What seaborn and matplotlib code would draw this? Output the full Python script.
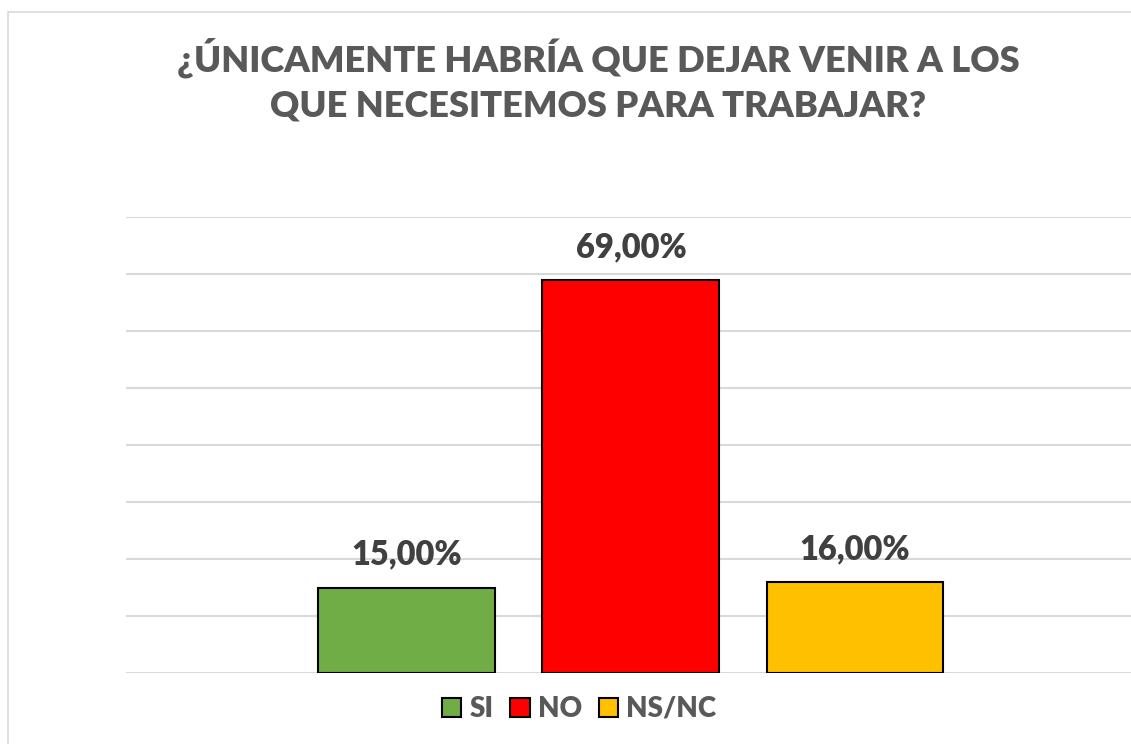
import numpy as np
import pandas as pd
import matplotlib
matplotlib.use("Agg")
import matplotlib.pyplot as plt
from matplotlib.patches import Rectangle
import seaborn as sns

# data
categories = ["SI", "NO", "NS/NC"]
values = [15.0, 69.0, 16.0]
bar_colors = ["#70AD47", "#FF0000", "#FFC000"]
title = "¿ÚNICAMENTE HABRÍA QUE DEJAR VENIR A LOS\nQUE NECESITEMOS PARA TRABAJAR?"

sns.set_style("white")
plt.rcParams["font.family"] = ["Lato", "DejaVu Sans"]

df = pd.DataFrame({"resp": categories, "pct": values})

fig = plt.figure(figsize=(11.31, 7.44), dpi=100)
ax = fig.add_axes([126 / 1131, 1 - 673 / 744, 1 - 126 / 1131, (673 - 217) / 744])

sns.barplot(data=df, x="resp", y="pct", hue="resp", order=categories,
            hue_order=categories, palette=bar_colors, saturation=1, width=0.79,
            edgecolor="black", linewidth=1.5, legend=False, ax=ax, zorder=3)

ax.set_ylim(0, 80)
ax.set_xlim(-1.254, 3.232)
ax.set_yticks(np.arange(0, 81, 10))
ax.yaxis.grid(True, color="#D9D9D9", linewidth=1.5, zorder=0)
ax.set_axisbelow(True)
ax.tick_params(left=False, bottom=False, labelleft=False, labelbottom=False)
ax.set_xlabel("")
ax.set_ylabel("")
for s in ax.spines.values():
    s.set_visible(False)

for cont in ax.containers:
    ax.bar_label(cont, labels=[f"{v:.2f}%".replace(".", ",") for v in cont.datavalues],
                 padding=12, fontsize=23.5, fontweight="heavy", color="#404040")

fig.text(598 / 1131, 1 - 80 / 744, title, ha="center", va="center",
         fontsize=26.1, fontweight="heavy", color="#595959", linespacing=1.4)

handles = [Rectangle((0, 0), 1, 1, facecolor=c, edgecolor="black", linewidth=1.5)
           for c in bar_colors]
leg = fig.legend(handles, categories, loc="center", bbox_to_anchor=(579 / 1131, 1 - 709 / 744),
                 ncol=3, frameon=False, handlelength=0.7, handleheight=0.7,
                 handletextpad=0.3, columnspacing=0.6, prop={"size": 20, "weight": "heavy"})
for t in leg.get_texts():
    t.set_color("#595959")

# chart frame like the spreadsheet chart border
fig.patches.append(Rectangle((8 / 1131, -0.1), 1.2, 1 - 12 / 744 + 0.1,
                             transform=fig.transFigure, fill=False,
                             edgecolor="#D9D9D9", linewidth=1.2))

fig.savefig("out.png", dpi=100)
